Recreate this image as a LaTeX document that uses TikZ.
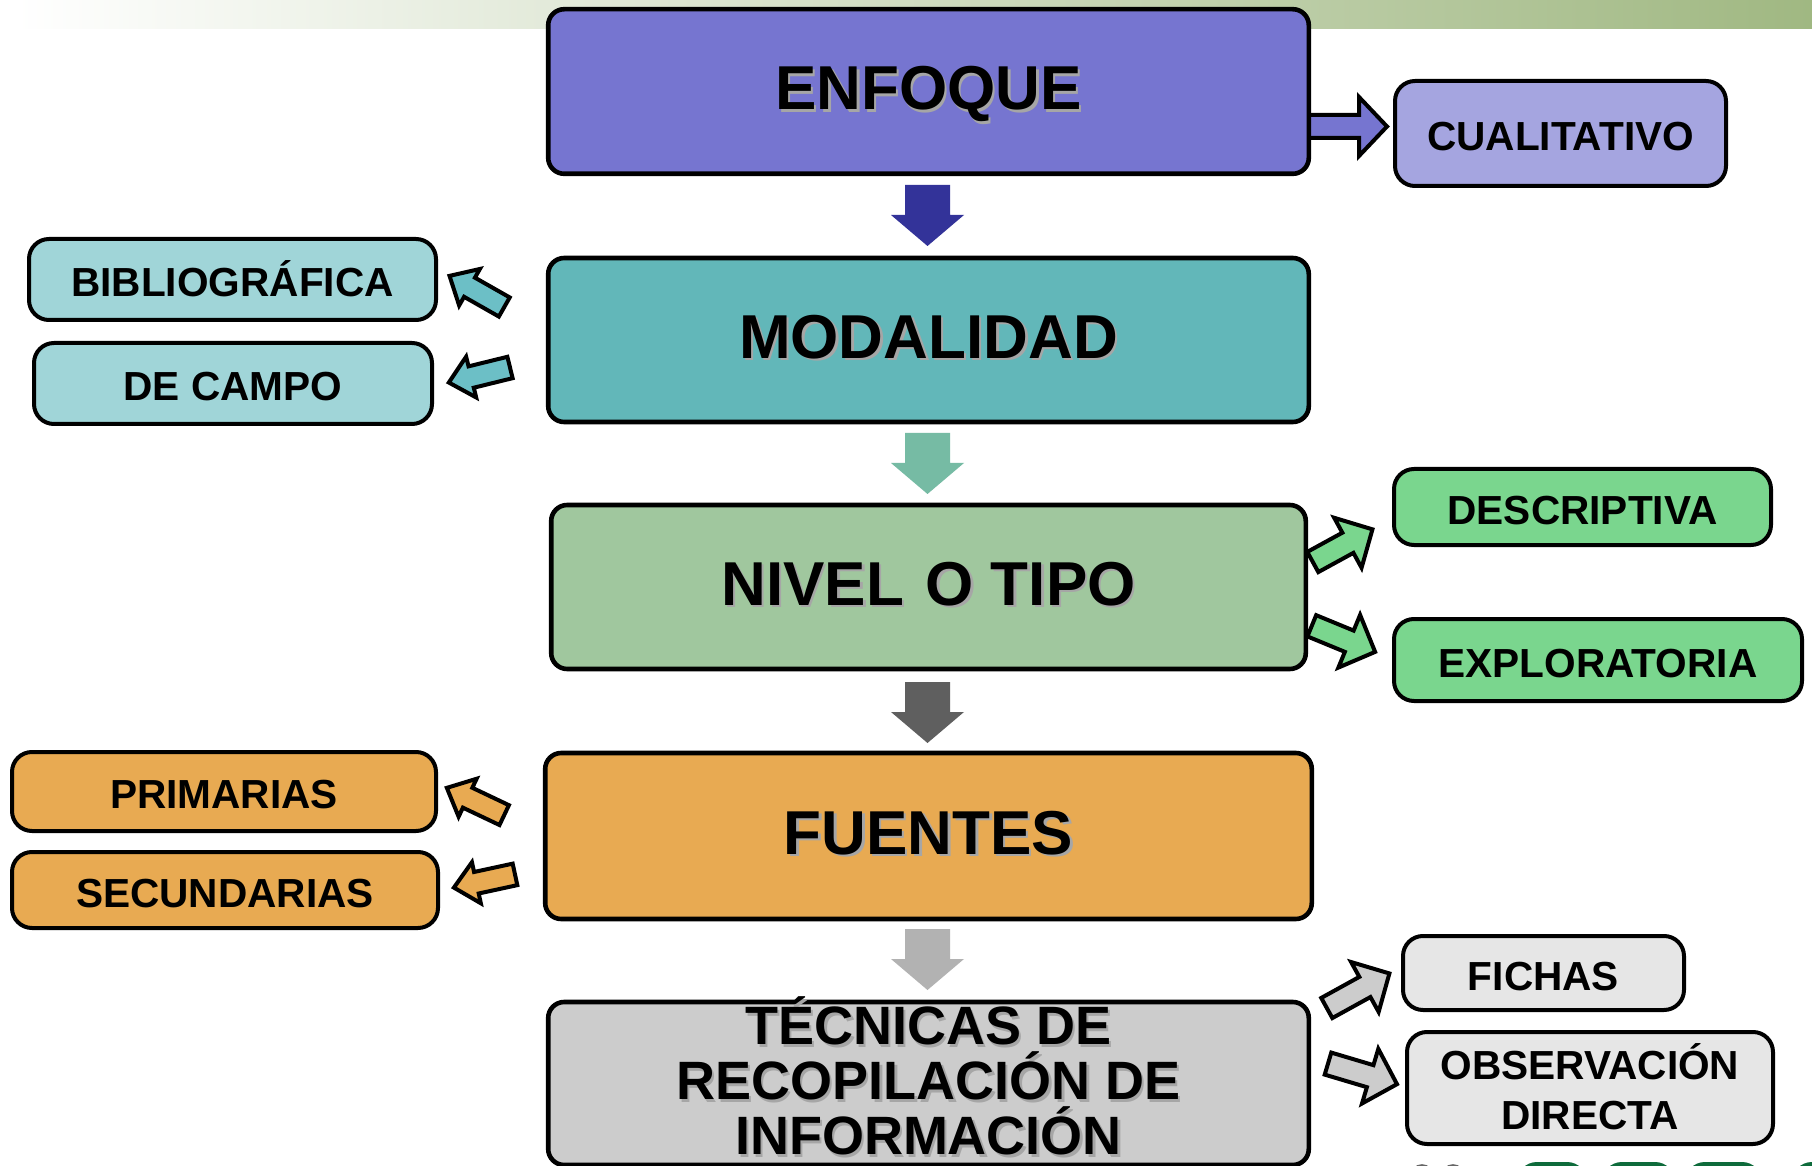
\documentclass[tikz,border=0pt]{standalone}
\usepackage{fontspec}
\setmainfont{Liberation Sans}
\definecolor{stripgreen}{RGB}{160,184,130}
\definecolor{enfcol}{RGB}{118,117,208}
\definecolor{cualcol}{RGB}{165,165,224}
\definecolor{downA}{RGB}{51,51,153}
\definecolor{modcol}{RGB}{98,183,185}
\definecolor{modside}{RGB}{160,213,216}
\definecolor{modarr}{RGB}{108,191,198}
\definecolor{downB}{RGB}{118,187,164}
\definecolor{nivcol}{RGB}{160,199,158}
\definecolor{nivside}{RGB}{122,214,142}
\definecolor{downC}{RGB}{95,95,95}
\definecolor{fuecol}{RGB}{232,170,82}
\definecolor{downD}{RGB}{178,178,178}
\definecolor{teccol}{RGB}{204,204,204}
\definecolor{tecside}{RGB}{230,230,230}
\definecolor{logogreen}{RGB}{14,107,59}
\tikzset{
  mainbox/.style={draw=black, line width=2.3pt, rounded corners=8pt, inner sep=0pt},
  sidebox/.style={draw=black, line width=2pt, rounded corners=10pt, inner sep=0pt,
    font=\fontsize{20.3}{25}\selectfont\bfseries, text height=17pt, text depth=0pt},
  bigtxt/.style={font=\fontsize{31}{36}\selectfont\bfseries, inner sep=0pt,
    text height=22.2pt, text depth=0pt},
  bigshadow/.style={bigtxt, text=black!35},
  midtxt/.style={font=\fontsize{27}{27.5}\selectfont\bfseries, inner sep=0pt, align=center},
  sidearrow/.style={draw=black, line width=2pt, line join=miter},
  downarrow/.style={draw=none},
}
% #1 style, #2 tail point, #3 angle, #4 length, #5 shaft half width, #6 head half width, #7 head length
\newcommand{\blockarrow}[7]{%
  \path[#1, shift={#2}, rotate=#3] (0,-#5) -- ({#4-#7},-#5) -- ({#4-#7},-#6) -- (#4,0)
    -- ({#4-#7},#6) -- ({#4-#7},#5) -- (0,#5) -- cycle;}
\begin{document}
\begin{tikzpicture}[x=0.5pt,y=-0.5pt]
\useasboundingbox (0,0) rectangle (1812,1166);
\clip (0,0) rectangle (1812,1166);
\fill[white] (0,0) rectangle (1812,1166);
% top strip
\shade[left color=white, right color=stripgreen] (15,0) rectangle (1812,29);
% logo fragments
\draw[black!60, line width=0.8pt, fill=black!10] (1422,1176) circle (11);
\draw[black!60, line width=0.8pt, fill=black!10] (1453,1176) circle (11);
\fill[logogreen, rounded corners=10pt] (1517,1162) rectangle (1587,1220);
\fill[logogreen, rounded corners=10pt] (1602,1162) rectangle (1675,1220);
\fill[logogreen, rounded corners=10pt] (1685,1162) rectangle (1762,1220);
\fill[logogreen, rounded corners=10pt] (1792,1162) rectangle (1850,1220);

% arrow enfoque -> cualitativo (behind the box)
\blockarrow{sidearrow, fill=enfcol}{(1300,126.5)}{0}{87}{11.5}{29.5}{28}

% main boxes
\node[mainbox, fill=enfcol, minimum width=380.3pt, minimum height=82.3pt] (enfoque) at (928.5,91.5) {};
\node[mainbox, fill=modcol, minimum width=380.3pt, minimum height=82pt] (modalidad) at (928.5,340) {};
\node[mainbox, fill=nivcol, minimum width=377.3pt, minimum height=82pt] (nivel) at (928.5,587) {};
\node[mainbox, fill=fuecol, minimum width=383.3pt, minimum height=83pt] (fuentes) at (928.5,836) {};
\node[mainbox, fill=teccol, minimum width=380.3pt, minimum height=81.5pt] (tecnicas) at (928.5,1083.5) {};

% main texts with shadow
\node[bigshadow] (enfoqueS) at (931,90) {ENFOQUE};
\node[bigtxt] (enfoqueT) at (928.5,87.5) {ENFOQUE};
\node[bigshadow] (modalidadS) at (931,338.5) {MODALIDAD};
\node[bigtxt] (modalidadT) at (928.5,336) {MODALIDAD};
\node[bigshadow] (nivelS) at (931,585.5) {NIVEL\hspace{0.35em}O TIPO};
\node[bigtxt] (nivelT) at (928.5,583) {NIVEL\hspace{0.35em}O TIPO};
\node[bigshadow] (fuentesS) at (931,834.5) {FUENTES};
\node[bigtxt] (fuentesT) at (928.5,832) {FUENTES};
\node[midtxt, text=black!35] (tecnicasS) at (931,1078.5) {TÉCNICAS DE\\RECOPILACIÓN DE\\INFORMACIÓN};
\node[midtxt] (tecnicasT) at (928.5,1076) {TÉCNICAS DE\\RECOPILACIÓN DE\\INFORMACIÓN};

% side boxes
\node[sidebox, fill=cualcol, minimum width=165.5pt, minimum height=52.5pt] (cualitativo) at (1560.5,133.5) {CUALITATIVO};
\node[sidebox, fill=modside, minimum width=203.5pt, minimum height=40.5pt] (biblio) at (232.5,279.5) {BIBLIOGRÁFICA};
\node[sidebox, fill=modside, minimum width=199pt, minimum height=40.5pt] (campo) at (233,383.5) {DE CAMPO};
\node[sidebox, fill=nivside, minimum width=188.5pt, minimum height=38pt] (descriptiva) at (1582.5,507) {DESCRIPTIVA};
\node[sidebox, fill=nivside, minimum width=204pt, minimum height=41pt] (exploratoria) at (1598,660) {EXPLORATORIA};
\node[sidebox, fill=fuecol, minimum width=212pt, minimum height=39.5pt] (primarias) at (224,791.5) {PRIMARIAS};
\node[sidebox, fill=fuecol, minimum width=213pt, minimum height=38pt] (secundarias) at (225,890) {SECUNDARIAS};
\node[sidebox, fill=tecside, minimum width=140.5pt, minimum height=37pt] (fichas) at (1543.5,973) {FICHAS};
\node[sidebox, fill=tecside, minimum width=183pt, minimum height=56pt] (observacion) at (1590,1088) {};
\node[font=\fontsize{20.3}{25}\selectfont\bfseries, align=center, inner sep=0pt] (observacionT) at (1590,1086.5) {OBSERVACIÓN\\DIRECTA};

% down arrows
\blockarrow{downarrow, fill=downA}{(927.5,185)}{-90}{61}{22.5}{36.5}{31}
\blockarrow{downarrow, fill=downB}{(927.5,433)}{-90}{61}{22.5}{36.5}{31}
\blockarrow{downarrow, fill=downC}{(927.5,682)}{-90}{61}{22.5}{36.5}{31}
\blockarrow{downarrow, fill=downD}{(927.5,929)}{-90}{61}{22.5}{36.5}{31}

% side arrows
\blockarrow{sidearrow, fill=modarr}{(504.3,307)}{150.4}{63}{11}{21}{23}
\blockarrow{sidearrow, fill=modarr}{(510,367.5)}{193.8}{63}{11}{21}{23}
\blockarrow{sidearrow, fill=nivside}{(1312.8,562)}{28.7}{68}{11.5}{28.5}{28}
\blockarrow{sidearrow, fill=nivside}{(1311.8,625.8)}{-22.4}{68.5}{11.5}{28.5}{28}
\blockarrow{sidearrow, fill=fuecol}{(504.2,815.1)}{154.6}{63.5}{11}{21}{23}
\blockarrow{sidearrow, fill=fuecol}{(515,874.4)}{192.2}{62.5}{11}{21}{23}
\blockarrow{sidearrow, fill=teccol}{(1326.8,1008)}{28.9}{71.5}{11.5}{28.5}{28}
\blockarrow{sidearrow, fill=teccol}{(1328,1063.6)}{-16.6}{72}{11.5}{28.5}{28}
\end{tikzpicture}
\end{document}
